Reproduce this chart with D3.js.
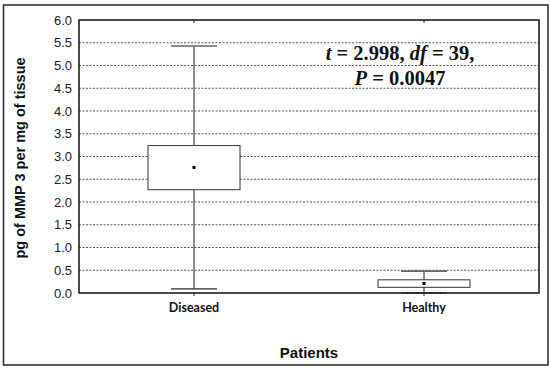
<!DOCTYPE html>
<html><head><meta charset="utf-8">
<script src="https://cdn.jsdelivr.net/npm/d3@7"></script>
<style>body{margin:0;background:#fff}svg{display:block}</style>
</head><body>
<script>
const categories = ["Diseased", "Healthy"];
const whiskerLow  = [0.09, 0.0];
const boxLow      = [2.27, 0.125];
const meanVals    = [2.76, 0.21];
const boxHigh     = [3.24, 0.29];
const whiskerHigh = [5.43, 0.48];
const yTicks = [0, 0.5, 1, 1.5, 2, 2.5, 3, 3.5, 4, 4.5, 5, 5.5, 6];
const yLabel = "pg of MMP 3 per mg of tissue";
const xLabel = "Patients";

const W = 550, H = 369;
const m = {l: 79, r: 11, t: 20, b: 76};
const svg = d3.select("body").append("svg").attr("width", W).attr("height", H);

svg.append("rect").attr("x", 3.5).attr("y", 5).attr("width", 544.5).attr("height", 360)
  .attr("fill", "none").attr("stroke", "#333").attr("stroke-width", 1.6);

const x = d3.scaleBand().domain(categories).range([m.l, W - m.r]);
const y = d3.scaleLinear().domain([0, 6]).range([H - m.b, m.t]);
const bw = x.bandwidth();

// gridlines
svg.append("g").selectAll("line").data(yTicks.filter(v => v > 0 && v < 6)).join("line")
  .attr("x1", m.l).attr("x2", W - m.r).attr("y1", d => y(d)).attr("y2", d => y(d))
  .attr("stroke", "#555").attr("stroke-width", 1).attr("stroke-dasharray", "2,1.5");

// y axis labels
const ya = svg.append("g").attr("transform", `translate(${m.l},0)`)
  .call(d3.axisLeft(y).tickValues(yTicks).tickFormat(d3.format(".1f")).tickSize(0).tickPadding(7));
ya.select(".domain").remove();
ya.selectAll("text").attr("font-family", "Liberation Sans, Arial, sans-serif").attr("font-size", 13).attr("fill", "#222");

// x axis ticks and labels
const xa = svg.append("g").attr("transform", `translate(0,${H - m.b})`)
  .call(d3.axisBottom(x).tickSize(3).tickPadding(7));
xa.select(".domain").remove();
xa.selectAll("line").attr("stroke", "#222");
xa.selectAll("text").attr("font-family", "Lato, Open Sans, sans-serif").attr("font-weight", 700)
  .attr("font-size", 12.5).attr("fill", "#111");
const xt = svg.append("g").attr("transform", `translate(0,${m.t})`)
  .call(d3.axisBottom(x).tickSize(3).tickFormat(""));
xt.select(".domain").remove();
xt.selectAll("line").attr("stroke", "#222");

// boxes
const g = svg.append("g").selectAll("g").data(categories).join("g")
  .attr("transform", d => `translate(${x(d) + bw / 2},0)`);
g.append("line").attr("x1", 0).attr("x2", 0)
  .attr("y1", (d, i) => y(whiskerLow[i])).attr("y2", (d, i) => y(whiskerHigh[i]))
  .attr("stroke", "#222").attr("stroke-width", 1);
g.append("rect").attr("x", -bw * 0.2).attr("width", bw * 0.4)
  .attr("y", (d, i) => y(boxHigh[i])).attr("height", (d, i) => y(boxLow[i]) - y(boxHigh[i]))
  .attr("fill", "#fff").attr("stroke", "#333").attr("stroke-width", 1);
[whiskerLow, whiskerHigh].forEach(arr => {
  g.append("line").attr("x1", -bw * 0.1).attr("x2", bw * 0.1)
    .attr("y1", (d, i) => y(arr[i])).attr("y2", (d, i) => y(arr[i]))
    .attr("stroke", "#666").attr("stroke-width", 1.6);
});
g.append("rect").attr("x", -1.5).attr("width", 3).attr("height", 3)
  .attr("y", (d, i) => y(meanVals[i]) - 1.5).attr("fill", "#000");

// plot frame
svg.append("rect").attr("x", m.l).attr("y", m.t).attr("width", W - m.l - m.r).attr("height", H - m.t - m.b)
  .attr("fill", "none").attr("stroke", "#111").attr("stroke-width", 1.5);

// axis titles
svg.append("text").attr("transform", `translate(25,158) rotate(-90)`)
  .attr("text-anchor", "middle").attr("font-family", "Liberation Sans, Arial, sans-serif")
  .attr("font-weight", 700).attr("font-size", 14.5).attr("fill", "#111").text(yLabel);
svg.append("text").attr("x", (m.l + W - m.r) / 2).attr("y", 358)
  .attr("text-anchor", "middle").attr("font-family", "Liberation Sans, Arial, sans-serif")
  .attr("font-weight", 700).attr("font-size", 15).attr("fill", "#111").text(xLabel);

// annotation
const ann = svg.append("g").attr("font-family", "Liberation Serif, serif").attr("font-weight", 700)
  .attr("font-size", 20.5).attr("fill", "#111").attr("text-anchor", "middle");
const t1 = ann.append("text").attr("x", 400).attr("y", 60);
t1.append("tspan").attr("font-style", "italic").text("t");
t1.append("tspan").text(" = 2.998, ");
t1.append("tspan").attr("font-style", "italic").text("df");
t1.append("tspan").text(" = 39,");
const t2 = ann.append("text").attr("x", 400).attr("y", 85);
t2.append("tspan").attr("font-style", "italic").text("P");
t2.append("tspan").text(" = 0.0047");
</script>
</body></html>
